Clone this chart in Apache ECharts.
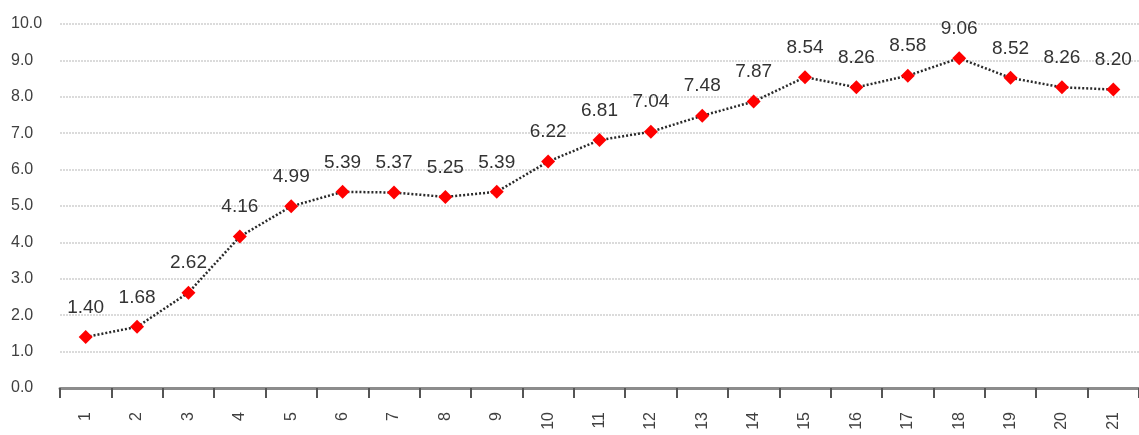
<!DOCTYPE html>
<html>
<head>
<meta charset="utf-8">
<script src="https://cdn.jsdelivr.net/npm/echarts@6/dist/echarts.min.js"></script>
<style>
  html, body { margin: 0; padding: 0; background: #fff; }
  #chart { width: 1139px; height: 435px; }
</style>
</head>
<body>
<div id="chart"></div>
<script>
// Period numbers along the x axis
const categories = ['1','2','3','4','5','6','7','8','9','10','11','12','13','14','15','16','17','18','19','20','21'];
// Values per period
const values = [1.40, 1.68, 2.62, 4.16, 4.99, 5.39, 5.37, 5.25, 5.39, 6.22, 6.81, 7.04, 7.48, 7.87, 8.54, 8.26, 8.58, 9.06, 8.52, 8.26, 8.20];
// Value axis range
const yMin = 0, yMax = 10, yStep = 1;

const FONT = 'Liberation Sans, Arial, sans-serif';
const chart = echarts.init(document.getElementById('chart'), null, { renderer: 'canvas' });

chart.setOption({
  animation: false,
  grid: { left: 60, top: 24, width: 1086, height: 364, containLabel: false },
  xAxis: {
    type: 'category',
    data: categories,
    boundaryGap: true,
    axisLine: { lineStyle: { color: '#8c8c8c', width: 3 } },
    axisTick: { show: true, length: 10, lineStyle: { color: '#555', width: 2 } },
    axisLabel: { rotate: 90, margin: 24, color: '#404040', fontSize: 16, fontFamily: FONT },
    splitLine: { show: false }
  },
  yAxis: {
    type: 'value',
    min: yMin, max: yMax, interval: yStep,
    axisLine: { show: false },
    axisTick: { show: false },
    axisLabel: { margin: 49, align: 'left', color: '#404040', fontSize: 16, fontFamily: FONT,
      formatter: v => v.toFixed(1) },
    splitLine: { lineStyle: { color: '#cfcfcf', type: [2, 1], width: 1.5 } }
  },
  series: [{
    type: 'line',
    data: values,
    symbol: 'diamond',
    symbolSize: 14,
    itemStyle: { color: '#ff0000' },
    lineStyle: { color: '#2a2a2a', width: 2.5, type: [2, 2] },
    label: {
      show: true, position: 'top', distance: 13,
      color: '#333', fontSize: 19, fontFamily: FONT,
      formatter: p => p.value.toFixed(2)
    }
  }]
});
</script>
</body>
</html>
